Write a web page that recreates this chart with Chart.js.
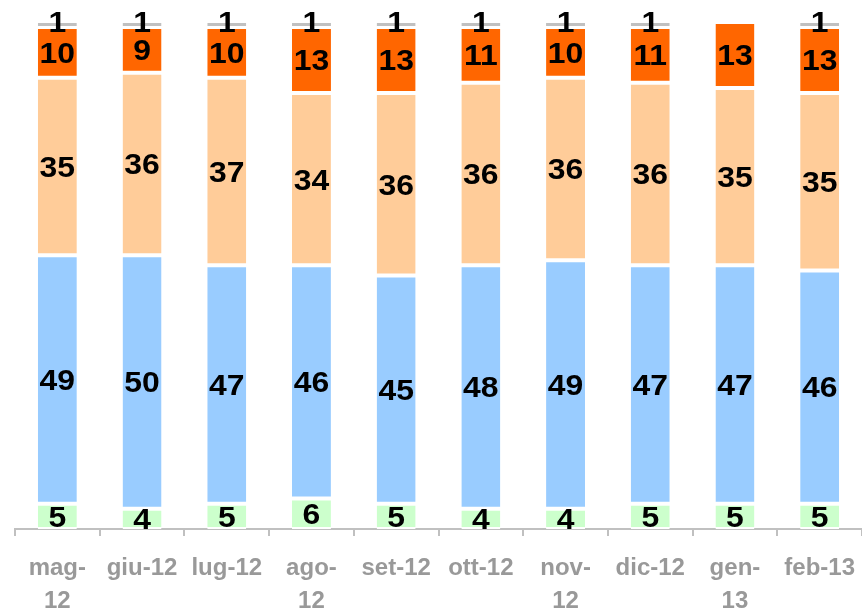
<!DOCTYPE html>
<html>
<head>
<meta charset="utf-8">
<script src="https://cdn.jsdelivr.net/npm/chart.js@4/dist/chart.umd.min.js"></script>
<style>
  html, body { margin: 0; padding: 0; background: #ffffff; }
  #wrap { width: 862px; height: 610px; position: relative; }
</style>
</head>
<body>
<div id="wrap"><canvas id="chart"></canvas></div>
<script>
// Monthly share breakdown (percent), May 2012 – Feb 2013
const months = [['mag-', '12'], 'giu-12', 'lug-12', ['ago-', '12'], 'set-12', 'ott-12', ['nov-', '12'], 'dic-12', ['gen-', '13'], 'feb-13'];
const seriesGreen  = [5, 4, 5, 6, 5, 4, 4, 5, 5, 5];
const seriesBlue   = [49, 50, 47, 46, 45, 48, 49, 47, 47, 46];
const seriesPeach  = [35, 36, 37, 34, 36, 36, 36, 36, 35, 35];
const seriesOrange = [10, 9, 10, 13, 13, 11, 10, 11, 13, 13];
const seriesGray   = [1, 1, 1, 1, 1, 1, 1, 1, null, 1];

const edge = { top: 2, bottom: 2, left: 0, right: 0 };

function makeSet(data, color, extra) {
  return Object.assign({
    data: data,
    backgroundColor: color,
    borderColor: '#ffffff',
    borderWidth: edge,
    borderSkipped: false,
    barPercentage: 0.46,
    categoryPercentage: 1.0,
    labelShift: 0
  }, extra || {});
}

// Draws each segment's value centred inside it
const LABEL_SIZE = 29;
const segmentLabels = {
  id: 'segmentLabels',
  afterDatasetsDraw(chart) {
    const ctx = chart.ctx;
    ctx.save();
    ctx.font = 'bold ' + LABEL_SIZE + 'px "Liberation Sans", Arial, sans-serif';
    ctx.fillStyle = '#000000';
    ctx.textAlign = 'center';
    ctx.textBaseline = 'alphabetic';
    chart.data.datasets.forEach((ds, i) => {
      const meta = chart.getDatasetMeta(i);
      meta.data.forEach((bar, j) => {
        const v = ds.data[j];
        if (v == null) return;
        const p = bar.getProps(['x', 'y', 'base'], true);
        const cy = (p.y + p.base) / 2 + ds.labelShift;
        ctx.save();
        ctx.translate(p.x, cy + LABEL_SIZE * 0.358);
        ctx.scale(1.1, 1);
        ctx.fillText(String(v), 0, 0);
        ctx.restore();
      });
    });
    ctx.restore();
  }
};

new Chart(document.getElementById('chart'), {
  type: 'bar',
  data: {
    labels: months,
    datasets: [
      makeSet(seriesGreen, '#ccffcc'),
      makeSet(seriesBlue, '#99ccff'),
      makeSet(seriesPeach, '#ffcc99'),
      makeSet(seriesOrange, '#ff6600'),
      makeSet(seriesGray, '#c0c0c0', { borderWidth: { top: 1, bottom: 1, left: 0, right: 0 }, labelShift: -3 })
    ]
  },
  options: {
    responsive: true,
    maintainAspectRatio: false,
    animation: false,
    layout: { padding: { left: 15, right: 0, top: 22, bottom: 0 } },
    plugins: {
      legend: { display: false },
      tooltip: { enabled: false }
    },
    scales: {
      x: {
        stacked: true,
        offset: true,
        afterFit(scale) {
          scale.height = 81;
          scale.paddingLeft = 0;
          scale.paddingRight = 0;
        },
        grid: {
          display: true,
          offset: true,
          drawOnChartArea: false,
          drawTicks: true,
          tickLength: 7,
          color: '#c0c0c0',
          lineWidth: 2
        },
        border: { display: true, color: '#c0c0c0', width: 2 },
        ticks: {
          color: '#999999',
          padding: 16,
          maxRotation: 0,
          autoSkip: false,
          font: { family: '"Liberation Sans", Arial, sans-serif', size: 24, weight: 'bold', lineHeight: 1.38 }
        }
      },
      y: {
        stacked: true,
        display: false,
        min: 0,
        max: 100
      }
    }
  },
  plugins: [segmentLabels]
});
</script>
</body>
</html>
